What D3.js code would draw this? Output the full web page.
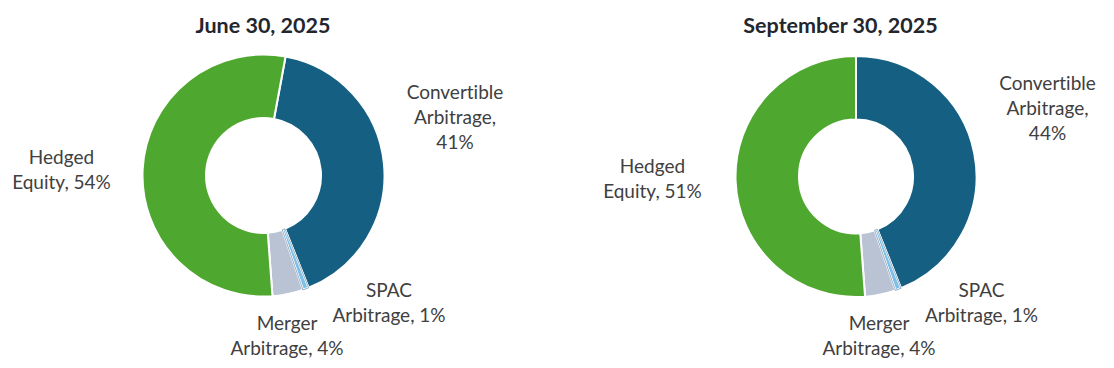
<!DOCTYPE html>
<html>
<head>
<meta charset="utf-8">
<script src="https://cdn.jsdelivr.net/npm/d3@7"></script>
<style>
  body { margin: 0; background: #fff; }
  svg { display: block; }
  .label { font-family: Lato, "Open Sans", sans-serif; font-size: 19px; fill: #404040; font-variant-ligatures: none; }
  .title { font-family: Lato, "Open Sans", sans-serif; font-size: 21.5px; font-weight: bold; fill: #23262d; }
</style>
</head>
<body>
<svg width="1114" height="368"></svg>
<script>
// data
var categories = ["Convertible Arbitrage", "SPAC Arbitrage", "Merger Arbitrage", "Hedged Equity"];
var labelLines = [["Convertible", "Arbitrage,"], ["SPAC", "Arbitrage,"], ["Merger", "Arbitrage,"], ["Hedged", "Equity,"]];
var juneValues = [41.0, 0.8, 4.1, 54.1];
var septValues = [43.9, 0.8, 4.1, 51.2];
var titles = ["June 30, 2025", "September 30, 2025"];

var colors = ["#156082", "#7fc0ea", "#b9c3d3", "#4ea72e"];

var svg = d3.select("svg");

// layout of each donut + hand placed labels (offsets from center)
var charts = [
  { title: titles[0], values: juneValues, cx: 263.5, cy: 175.5, r: 121, ir: 57.5, rot: 10.5, tx: 263, ty: 32.5,
    labels: [[191.5, -77], [125.5, 121], [23.5, 154], [-202, -12]] },
  { title: titles[1], values: septValues, cx: 856, cy: 176.5, r: 120.5, ir: 57, rot: 0, tx: 840.5, ty: 32.5,
    labels: [[191.5, -86.5], [125.5, 120], [23, 153.5], [-203.5, -4]] }
];

var lineH = 25;

charts.forEach(function(c) {
  var g = svg.append("g").attr("transform", "translate(" + c.cx + "," + c.cy + ")");

  var pie = d3.pie().sort(null)
    .startAngle(c.rot * Math.PI / 180)
    .endAngle((c.rot + 360) * Math.PI / 180);
  var arc = d3.arc().innerRadius(c.ir).outerRadius(c.r);

  var arcs = pie(c.values);

  g.selectAll("path")
    .data(arcs)
    .enter().append("path")
      .attr("d", arc)
      .attr("fill", function(d, i) { return colors[i]; })
      .attr("stroke", "#fff")
      .attr("stroke-width", 2)
      .attr("stroke-linejoin", "round");

  // thin darker edge on the tiny SPAC slice
  g.append("path")
    .attr("d", arc(arcs[1]))
    .attr("fill", "none")
    .attr("stroke", "#4a7c9c")
    .attr("stroke-width", 0.6);

  svg.append("text")
    .attr("class", "title")
    .attr("x", c.tx)
    .attr("y", c.ty)
    .attr("text-anchor", "middle")
    .text(c.title);

  arcs.forEach(function(d, i) {
    var lines = labelLines[i].slice();
    var pct = Math.round(c.values[i]) + "%";
    if (i === 0) lines.push(pct);
    else lines[lines.length - 1] += " " + pct;
    var t = g.append("text")
      .attr("class", "label")
      .attr("text-anchor", "middle")
      .attr("x", c.labels[i][0])
      .attr("y", c.labels[i][1]);
    lines.forEach(function(s, k) {
      t.append("tspan")
        .attr("x", c.labels[i][0])
        .attr("y", c.labels[i][1] + k * lineH)
        .text(s);
    });
  });
});
</script>
</body>
</html>
